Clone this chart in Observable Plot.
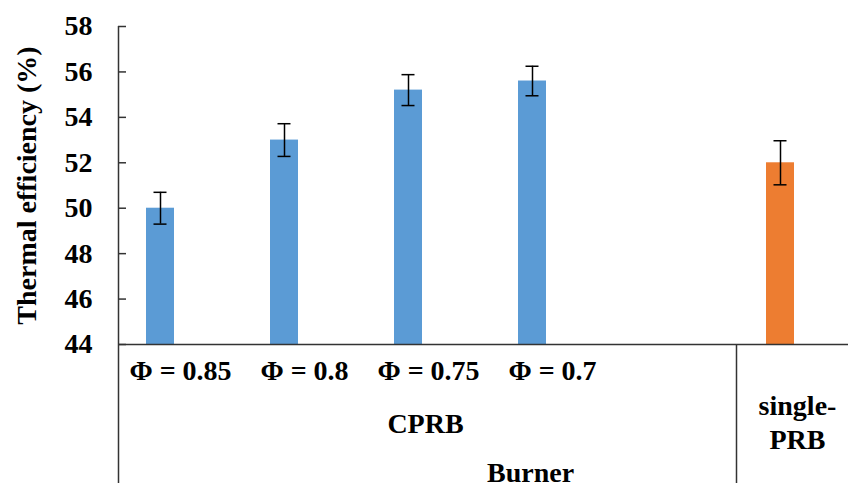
<!DOCTYPE html>
<html><head><meta charset="utf-8">
<script src="https://cdn.jsdelivr.net/npm/d3@7"></script>
<script src="https://cdn.jsdelivr.net/npm/@observablehq/plot@0.6"></script>
<style>body{margin:0;background:#fff}</style>
</head><body><div id="chart"></div>
<script>
// Data
const categories = ["Φ = 0.85", "Φ = 0.8", "Φ = 0.75", "Φ = 0.7", "", "single-PRB"];
const groups = ["CPRB", "CPRB", "CPRB", "CPRB", "CPRB", "single-PRB"];
const efficiency = [50.0, 53.0, 55.2, 55.6, null, 52.0];
const errors = [0.7, 0.72, 0.68, 0.65, null, 0.97];
const yTicks = [44, 46, 48, 50, 52, 54, 56, 58];
const groupNames = ["CPRB", "single-PRB"];
const colors = ["#5B9BD5", "#ED7D31"];
const yTitle = "Thermal efficiency (%)";
const xTitle = "Burner";

const data = categories
  .map((c, i) => ({category: c, group: groups[i], value: efficiency[i], err: errors[i]}))
  .filter(d => d.value != null);
const labelRow = categories.filter(c => c !== "" && c !== "single-PRB");

const font = "'Liberation Serif','Times New Roman',serif";
const FS = 28;
const off = -20; // bar offset inside category slot
const axisColor = "#333";

const chart = Plot.plot({
  width: 848,
  height: 494,
  marginTop: 26,
  marginBottom: 150,
  marginLeft: 118,
  marginRight: -14,
  style: {fontFamily: font, fontWeight: "bold", fontSize: FS + "px", background: "#fff", color: "#000", overflow: "visible"},
  x: {type: "band", domain: categories, range: [118, 862], paddingInner: 0.774, paddingOuter: 0.387, axis: null},
  y: {domain: [44, 58], axis: null},
  color: {domain: groupNames, range: colors},
  marks: [
    Plot.barY(data, {x: "category", y1: yTicks[0], y2: "value", fill: "group", dx: off}),
    Plot.ruleX(data, {x: "category", y1: d => d.value - d.err, y2: d => d.value + d.err, dx: off, stroke: "#000", strokeWidth: 1.5}),
    Plot.tickY(data, {x: "category", y: d => d.value + d.err, dx: off, insetLeft: 7.5, insetRight: 7.5, stroke: "#000", strokeWidth: 1.5}),
    Plot.tickY(data, {x: "category", y: d => d.value - d.err, dx: off, insetLeft: 7.5, insetRight: 7.5, stroke: "#000", strokeWidth: 1.5}),
    // axes lines
    Plot.ruleY([yTicks[0]], {stroke: axisColor, strokeWidth: 1.5}),
    Plot.ruleX([categories[0]], {dx: -62, insetBottom: -139, stroke: axisColor, strokeWidth: 1.5}),
    Plot.ruleX([categories[5]], {dx: -64, insetTop: 318, insetBottom: -139, stroke: axisColor, strokeWidth: 1.5}),
    Plot.axisY({ticks: yTicks, tickSize: 8, dx: 8, tickFormat: () => "", label: null, stroke: axisColor, strokeWidth: 1.5}),
    Plot.axisY({ticks: yTicks, tickSize: 0, tickPadding: 26, fontSize: FS, fontWeight: "bold", fill: "#000", label: null}),
    // y title
    Plot.text([yTitle], {frameAnchor: "left", textAnchor: "middle", dx: -91, rotate: -90, fontSize: FS, fontWeight: "bold", fill: "#000"}),
    // category labels
    Plot.text(labelRow, {x: d => d, frameAnchor: "bottom", dy: 35, fontSize: FS, fontWeight: "bold", fill: "#000"}),
    Plot.text(["CPRB"], {x: () => categories[2], frameAnchor: "bottom", dx: -3, dy: 88, fontSize: FS, fontWeight: "bold", fill: "#000"}),
    Plot.text(["single-\nPRB"], {x: () => categories[5], frameAnchor: "bottom", dx: -3, dy: 104, lineHeight: 1.2, fontSize: FS, fontWeight: "bold", fill: "#000"}),
    Plot.text([xTitle], {frameAnchor: "bottom", dx: 40, dy: 137, fontSize: FS, fontWeight: "bold", fill: "#000"})
  ]
});
document.getElementById("chart").appendChild(chart);
</script>
</body></html>
